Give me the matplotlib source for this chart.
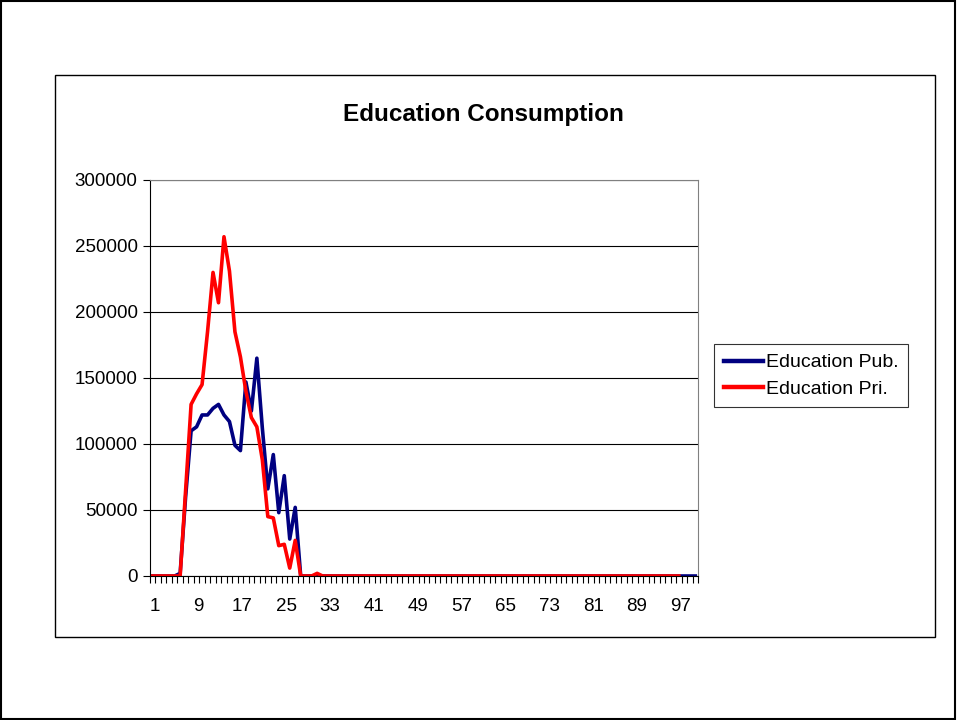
import matplotlib
matplotlib.use("Agg")
import matplotlib.pyplot as plt
import matplotlib.transforms as mtransforms
from matplotlib.patches import Rectangle
import numpy as np

plt.rcParams['font.family'] = ['Liberation Sans', 'DejaVu Sans']

# categories 1..100
categories = list(range(1, 101))

# Education Pub. (blue), rest are zero
pub_start = [0, 0, 0, 0, 0, 2000, 60000, 110000, 113000, 122000,
             122000, 127000, 130000, 122000, 117000, 99000, 95000, 147000, 125000, 165000,
             112000, 66000, 92000, 48000, 76000, 28000, 52000, 0]
pub = pub_start + [0] * (100 - len(pub_start))

# Education Pri. (red), line stops at category 97
pri_start = [0, 0, 0, 0, 0, 0, 65000, 130000, 138000, 145000,
             185000, 230000, 207000, 257000, 231000, 185000, 166000, 140000, 120000, 113000,
             88000, 45000, 44000, 23000, 24000, 6000, 27000, 0, 0, 0,
             2000]
pri = pri_start + [0] * (97 - len(pri_start))

x_labels = list(range(1, 101, 8))
y_ticks = [0, 50000, 100000, 150000, 200000, 250000, 300000]

fig = plt.figure(figsize=(9.57, 7.2), dpi=100)

# outer frame and chart area frame
fig.patches.append(Rectangle((0.001, 0.001), 0.997, 0.997, transform=fig.transFigure,
                             fill=False, edgecolor="black", linewidth=1.5))
fig.patches.append(Rectangle((55 / 957, 1 - 637 / 720), 880 / 957, 562 / 720,
                             transform=fig.transFigure, fill=False, edgecolor="black", linewidth=1))

ax = fig.add_axes([150 / 957, 1 - 576 / 720, 548 / 957, 396 / 720])

ax.plot(categories, pub, color="#000080", linewidth=2.6, label="Education Pub.")
ax.plot(categories[:len(pri)], pri, color="#FF0000", linewidth=2.6, label="Education Pri.")

ax.set_xlim(0.5, 100.5)
ax.set_ylim(0, 300000)
ax.set_yticks(y_ticks)
ax.set_yticklabels([str(v) for v in y_ticks], fontsize=13.5)
ax.set_xticks(x_labels)
ax.set_xticklabels([str(v) for v in x_labels], fontsize=13.5)
ax.set_xticks(np.arange(0.5, 101, 1), minor=True)
ax.tick_params(axis="x", which="major", length=0, pad=16)
ax.tick_params(axis="x", which="minor", length=5, width=0.8, direction="out")
ax.tick_params(axis="y", length=5, width=0.8, pad=4)

# excel puts the category labels a bit to the right
shift = mtransforms.ScaledTranslation(2 / 100, 0, fig.dpi_scale_trans)
for lbl in ax.get_xticklabels():
    lbl.set_transform(lbl.get_transform() + shift)

ax.grid(axis="y", color="black", linewidth=0.8)
ax.set_axisbelow(True)
for side in ["top", "right"]:
    ax.spines[side].set_color("#808080")
ax.spines["left"].set_color("black")
ax.spines["bottom"].set_color("black")

fig.text(483 / 957, 1 - 114 / 720, "Education Consumption", ha="center", va="center",
         fontsize=17.5, fontweight="bold")

leg = fig.legend(loc="upper left", bbox_to_anchor=(714 / 957, 1 - 344 / 720), fontsize=14,
                 frameon=True, fancybox=False, edgecolor="black", handlelength=2.0,
                 handletextpad=0.15, borderpad=0.5, labelspacing=0.45, borderaxespad=0)
leg.get_frame().set_linewidth(0.8)
for line in leg.get_lines():
    line.set_linewidth(3.2)

fig.savefig("out.png", dpi=100)
